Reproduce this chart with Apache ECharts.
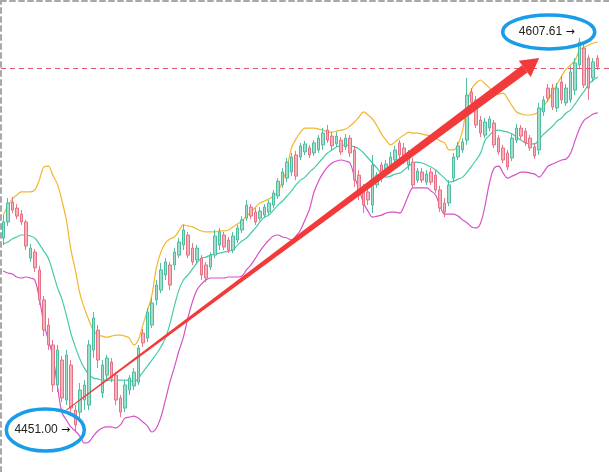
<!DOCTYPE html>
<html><head><meta charset="utf-8">
<script src="https://cdn.jsdelivr.net/npm/echarts@6/dist/echarts.min.js"></script>
<style>html,body{margin:0;padding:0;background:#fff}#c{width:609px;height:472px}</style>
</head><body><div id="c"></div>
<script>
const opens = [
4528.1,4534.5,4542.4,4540.0,4537.6,4534.5,4520.1,4522.5,4515.4,4503.5,
4493.5,4485.6,4469.7,4479.6,4463.7,4477.6,4459.7,4458.9,4463.7,4461.7,
4483.6,4491.5,4466.5,4473.6,4478.8,4473.6,4464.5,4460.5,4467.7,4469.3,
4470.8,4490.3,4488.3,4493.5,4503.5,4507.4,4513.4,4517.4,4517.4,4521.3,
4525.3,4529.3,4524.1,4519.4,4520.1,4517.4,4516.6,4521.3,4525.3,4529.3,
4527.3,4523.3,4527.3,4531.3,4536.0,4540.4,4538.4,4536.0,4537.2,4538.4,
4541.2,4544.8,4549.2,4551.9,4554.3,4561.1,4560.3,4562.3,4563.9,4561.9,
4563.1,4565.1,4571.0,4568.6,4565.5,4567.0,4564.3,4567.8,4563.1,4553.1,
4548.0,4546.4,4541.2,4549.2,4557.1,4554.3,4555.9,4559.1,4565.9,4563.9,
4557.1,4558.3,4551.1,4554.3,4550.3,4554.3,4553.1,4547.2,4542.0,4542.0,
4551.9,4560.3,4563.1,4567.0,4586.1,4583.0,4575.0,4569.0,4571.8,4573.8,
4567.8,4563.9,4561.9,4559.9,4567.0,4571.8,4570.6,4567.8,4564.3,4563.1,
4578.2,4587.7,4587.7,4579.8,4590.1,4581.8,4583.0,4586.9,4596.9,4603.6,
4599.6,4591.7,4599.6];
const closes = [
4534.5,4542.0,4539.2,4536.8,4534.5,4524.9,4524.1,4516.2,4503.5,4491.5,
4485.6,4469.7,4483.6,4464.5,4481.6,4460.5,4453.8,4467.7,4469.7,4485.6,
4496.3,4479.6,4477.6,4480.4,4472.4,4463.7,4458.9,4469.7,4472.4,4474.8,
4484.4,4486.4,4498.7,4502.3,4509.4,4515.4,4518.6,4509.4,4522.5,4526.5,
4531.3,4521.3,4518.6,4524.1,4513.4,4512.2,4521.3,4528.9,4530.5,4524.5,
4523.3,4528.9,4532.1,4535.3,4541.2,4536.8,4534.5,4538.8,4540.4,4542.0,
4546.0,4550.7,4554.3,4558.3,4560.3,4552.7,4564.7,4565.5,4561.1,4565.9,
4567.8,4569.8,4567.0,4564.7,4568.6,4562.3,4567.8,4561.9,4551.1,4545.2,
4541.2,4543.2,4557.1,4553.1,4551.9,4557.5,4560.3,4563.1,4561.1,4559.1,
4561.1,4549.2,4554.7,4551.1,4553.5,4550.3,4547.2,4540.0,4538.4,4549.2,
4560.3,4564.7,4566.3,4584.9,4581.8,4573.0,4569.8,4574.2,4575.4,4565.1,
4562.3,4559.1,4556.3,4567.8,4571.8,4568.6,4565.9,4563.9,4560.7,4579.8,
4583.0,4583.7,4580.2,4587.7,4583.0,4587.7,4594.1,4597.7,4606.0,4588.9,
4587.7,4598.1,4596.1];
const lows = [
4525.3,4532.9,4538.0,4535.6,4533.3,4523.3,4518.6,4514.6,4501.5,4489.1,
4483.6,4466.9,4466.9,4462.9,4461.7,4458.9,4451.00,4456.5,4459.7,4459.7,
4480.4,4476.4,4464.5,4471.6,4470.8,4461.7,4456.9,4458.9,4465.7,4467.7,
4469.7,4484.8,4486.8,4492.3,4501.5,4506.2,4511.4,4507.4,4515.4,4520.1,
4523.3,4520.1,4517.4,4518.2,4511.4,4510.6,4515.4,4520.1,4523.3,4523.3,
4522.1,4522.1,4526.1,4530.1,4534.9,4535.6,4533.3,4534.9,4536.0,4537.2,
4540.0,4543.6,4548.0,4550.3,4552.7,4551.1,4559.1,4561.1,4559.9,4560.7,
4561.9,4563.1,4565.9,4563.1,4564.3,4561.1,4563.1,4560.3,4548.4,4543.2,
4538.0,4541.2,4538.0,4548.0,4550.3,4553.1,4554.7,4557.5,4559.1,4557.5,
4555.1,4548.0,4550.0,4550.0,4549.2,4549.2,4546.0,4538.4,4536.4,4540.8,
4550.3,4559.1,4561.9,4565.1,4579.8,4571.8,4568.2,4567.8,4570.6,4563.9,
4561.1,4557.9,4555.1,4558.7,4565.9,4567.4,4564.7,4562.7,4559.5,4561.1,
4576.6,4582.2,4579.0,4578.2,4581.4,4580.6,4581.8,4584.9,4595.7,4587.7,
4583.0,4590.1,4594.9];
const highs = [
4537.2,4544.0,4544.4,4541.6,4539.2,4535.3,4525.7,4523.7,4517.0,4505.0,
4496.3,4487.6,4485.6,4481.2,4483.6,4479.6,4461.7,4470.5,4471.6,4487.6,
4498.7,4493.5,4479.6,4481.6,4480.4,4474.8,4465.7,4471.6,4473.6,4476.4,
4485.6,4491.9,4500.3,4504.2,4511.4,4518.2,4520.1,4518.6,4524.1,4528.1,
4533.3,4530.5,4526.1,4525.3,4521.3,4518.6,4522.5,4531.3,4532.1,4530.5,
4528.5,4530.5,4533.3,4536.8,4543.2,4541.6,4540.0,4540.4,4541.6,4543.2,
4547.2,4551.9,4555.9,4559.9,4561.9,4562.7,4565.9,4566.7,4565.1,4567.0,
4569.0,4571.8,4573.0,4570.2,4570.2,4568.2,4569.4,4569.0,4564.7,4555.1,
4549.6,4548.0,4561.1,4554.3,4558.3,4559.1,4562.3,4564.7,4567.0,4565.9,
4563.1,4559.9,4555.9,4555.9,4555.1,4555.9,4555.1,4548.8,4544.0,4551.1,
4561.9,4566.3,4567.8,4591.7,4587.7,4584.5,4576.6,4575.8,4576.6,4575.0,
4569.0,4565.1,4563.1,4569.4,4573.4,4573.0,4571.8,4569.0,4565.9,4581.8,
4584.5,4589.3,4589.3,4589.7,4592.5,4589.3,4596.5,4599.6,4607.61,4605.2,
4600.8,4599.6,4600.8];
const upperBand = [
4537.2,4540.8,4543.6,4545.2,4546.4,4546.4,4546.4,4547.2,4551.1,4556.3,
4556.7,4553.1,4549.6,4543.2,4535.3,4523.7,4515.4,4506.2,4500.3,4495.5,
4491.5,4489.5,4489.1,4488.7,4489.1,4489.5,4489.5,4489.1,4488.3,4485.6,
4487.6,4493.5,4499.1,4505.4,4516.2,4522.5,4526.1,4527.7,4528.5,4530.9,
4533.3,4532.9,4532.5,4531.7,4530.9,4530.5,4530.5,4530.5,4530.9,4530.9,
4531.3,4532.5,4533.7,4534.9,4536.8,4538.4,4540.4,4542.0,4542.8,4543.6,
4544.8,4546.4,4550.7,4555.9,4563.9,4567.4,4570.2,4571.8,4571.8,4571.8,
4571.4,4571.0,4570.2,4570.2,4570.6,4571.0,4571.4,4572.6,4574.2,4576.2,
4578.2,4577.0,4575.4,4572.6,4569.4,4567.0,4565.1,4566.3,4567.8,4569.0,
4570.2,4569.8,4569.8,4569.4,4569.0,4568.6,4567.8,4566.7,4565.9,4563.1,
4563.1,4565.5,4571.0,4581.8,4587.3,4589.7,4590.9,4589.3,4587.7,4584.9,
4585.3,4585.7,4583.4,4580.6,4578.2,4577.4,4577.0,4577.0,4577.4,4578.2,
4580.6,4583.0,4586.1,4589.3,4592.5,4595.3,4596.9,4598.9,4602.8,4604.0,
4604.8,4605.6,4606.0];
const middleBand = [
4525.7,4526.5,4527.7,4528.5,4529.3,4529.3,4528.9,4528.1,4525.7,4522.9,
4520.1,4514.6,4508.6,4503.9,4497.5,4490.3,4484.8,4480.0,4476.4,4474.0,
4472.4,4472.1,4471.6,4471.6,4471.6,4471.6,4471.6,4471.6,4471.6,4470.8,
4472.4,4474.8,4477.2,4479.6,4482.0,4484.8,4488.3,4493.9,4501.1,4507.4,
4511.4,4513.4,4515.8,4518.2,4520.1,4520.5,4521.3,4521.7,4522.1,4522.5,
4522.9,4523.3,4525.3,4526.9,4528.1,4530.1,4532.1,4534.5,4536.4,4537.2,
4539.2,4541.2,4542.8,4544.8,4546.8,4549.2,4551.1,4552.3,4554.3,4555.9,
4557.9,4559.9,4561.9,4563.1,4564.3,4564.7,4565.1,4564.7,4564.3,4563.5,
4561.9,4559.9,4557.9,4555.9,4553.5,4552.3,4552.7,4553.5,4553.9,4555.1,
4556.7,4557.9,4558.3,4557.9,4557.1,4556.3,4555.1,4553.5,4551.9,4550.3,
4550.7,4551.5,4552.3,4554.3,4556.7,4559.1,4561.9,4567.0,4569.0,4570.6,
4571.0,4570.6,4570.2,4569.4,4568.2,4567.0,4565.9,4565.5,4565.5,4567.4,
4569.4,4571.0,4572.6,4574.6,4575.8,4577.8,4579.0,4581.4,4584.1,4586.5,
4589.3,4590.9,4592.1];
const lowerBand = [
4515.0,4514.2,4513.8,4512.6,4512.2,4512.6,4512.2,4511.4,4504.2,4494.3,
4487.6,4481.2,4469.7,4458.9,4455.8,4453.0,4451.4,4449.4,4446.6,4447.0,
4449.4,4451.4,4452.6,4453.0,4453.0,4452.6,4453.8,4456.5,4456.9,4457.3,
4456.5,4455.0,4453.4,4451.0,4452.6,4456.9,4463.7,4470.8,4476.8,4483.2,
4488.7,4496.3,4502.7,4507.4,4509.8,4511.4,4512.2,4512.2,4512.2,4512.2,
4512.6,4512.6,4512.6,4513.0,4515.4,4517.4,4520.1,4522.9,4525.3,4527.3,
4528.9,4529.3,4528.5,4528.1,4527.3,4528.9,4531.3,4535.3,4539.6,4546.4,
4550.7,4553.9,4556.3,4557.9,4558.7,4559.1,4558.7,4557.9,4552.3,4547.6,
4542.0,4538.8,4536.4,4536.8,4537.2,4538.0,4538.4,4538.4,4538.0,4540.8,
4545.2,4548.0,4548.0,4548.0,4548.0,4546.8,4545.2,4540.8,4537.6,4537.6,
4537.6,4536.8,4535.3,4534.1,4532.5,4532.1,4534.1,4541.2,4550.3,4555.9,
4556.7,4553.9,4551.9,4552.7,4553.5,4554.3,4554.3,4553.9,4553.5,4552.3,
4554.3,4556.7,4557.5,4558.3,4559.1,4559.5,4561.9,4567.0,4571.8,4575.0,
4576.2,4577.4,4577.8];
const highMark = { index: 128, value: 4607.61, text: '4607.61' };
const lowMark = { index: 16, value: 4451.00, text: '4451.00' };
const lastPrice = 4595.7;
const arrowLine = [14, 4459.7, 119, 4599.6];
const emptySlotsAfter = 2;

const categories = [];
for (let i = 0; i < opens.length + emptySlotsAfter; i++) categories.push(String(i + 1));
const kData = opens.map((o, i) => [o, closes[i], lows[i], highs[i]]);

const ellipseStyles = [
  { dx: -31, dy: -6, rx: 46, ry: 17 },
  { dx: -30, dy: -2, rx: 39, ry: 21 }
];

const chart = echarts.init(document.getElementById('c'));
chart.setOption({
  animation: false,
  backgroundColor: '#ffffff',
  grid: { left: 1, right: 0, top: 1, bottom: 0 },
  xAxis: {
    type: 'category', data: categories, position: 'top', boundaryGap: true,
    axisLine: { show: true, onZero: false, lineStyle: { color: '#a8a8a8', width: 2, type: [5, 4] } },
    axisTick: { show: false }, axisLabel: { show: false }, splitLine: { show: false }
  },
  yAxis: {
    type: 'value', min: 4435.1, max: 4622.3, position: 'left',
    axisLine: { show: true, lineStyle: { color: '#a8a8a8', width: 2, type: [5, 4] } },
    axisTick: { show: false }, axisLabel: { show: false }, splitLine: { show: false }
  },
  series: [
    { type: 'line', data: upperBand, smooth: 0.35, symbol: 'none', z: 2,
      lineStyle: { color: '#f5b530', width: 1.2 } },
    { type: 'line', data: middleBand, smooth: 0.35, symbol: 'none', z: 2,
      lineStyle: { color: '#45cba8', width: 1.2 } },
    { type: 'line', data: lowerBand, smooth: 0.35, symbol: 'none', z: 2,
      lineStyle: { color: '#d651c6', width: 1.2 } },
    { type: 'candlestick', data: kData, barWidth: 3, z: 3,
      itemStyle: { color: '#a3dccb', color0: '#f6b2ba', borderColor: '#3db898', borderColor0: '#e5667a', borderWidth: 0.9 },
      markLine: { silent: true, symbol: 'none', label: { show: false },
        lineStyle: { color: '#de5570', width: 1, type: [5, 4] },
        data: [{ yAxis: lastPrice }] },
      markPoint: {
        symbol: 'circle', symbolSize: 0, silent: true,
        label: { show: true, position: 'left', distance: 5, formatter: p => '{v|' + p.name + '} {a|→}',
          rich: { v: { fontSize: 12, color: '#222', fontFamily: 'Arial' }, a: { fontSize: 11, color: '#111', fontFamily: 'DejaVu Sans' } } },
        data: [
          { name: highMark.text, coord: [highMark.index, highMark.value], label: { offset: [0, -6] } },
          { name: lowMark.text, coord: [lowMark.index, lowMark.value], label: { offset: [0, -2] } }
        ]
      }
    },
    { type: 'custom', z: 5, silent: true, encode: { x: [0, 2], y: [1, 3] },
      data: [arrowLine],
      renderItem: function (params, api) {
        const s = api.coord([api.value(0), api.value(1)]);
        const t = api.coord([api.value(2), api.value(3)]);
        const dx = t[0] - s[0], dy = t[1] - s[1];
        const len = Math.hypot(dx, dy);
        const ux = dx / len, uy = dy / len, nx = -uy, ny = ux;
        const headLen = 18, headHalf = 10, tail = 0.5, neck = 4.5;
        const bx = t[0] - ux * headLen, by = t[1] - uy * headLen;
        return { type: 'group', children: [
          { type: 'polygon', shape: { points: [[s[0] + nx * tail, s[1] + ny * tail], [bx + nx * neck, by + ny * neck], [bx - nx * neck, by - ny * neck], [s[0] - nx * tail, s[1] - ny * tail]] }, style: { fill: '#f23a3a' } },
          { type: 'polygon', shape: { points: [[t[0], t[1]], [bx + nx * headHalf, by + ny * headHalf], [bx - nx * headHalf, by - ny * headHalf]] }, style: { fill: '#f23a3a' } }
        ] };
      }
    },
    { type: 'custom', z: 6, silent: true,
      data: [[highMark.index, highMark.value], [lowMark.index, lowMark.value]],
      renderItem: function (params, api) {
        const p = api.coord([api.value(0), api.value(1)]);
        const e = ellipseStyles[params.dataIndex];
        return { type: 'ellipse', shape: { cx: p[0] + e.dx, cy: p[1] + e.dy, rx: e.rx, ry: e.ry },
          style: { fill: 'none', stroke: '#1a9ce8', lineWidth: 3.5 } };
      }
    }
  ]
});
</script>
</body></html>
